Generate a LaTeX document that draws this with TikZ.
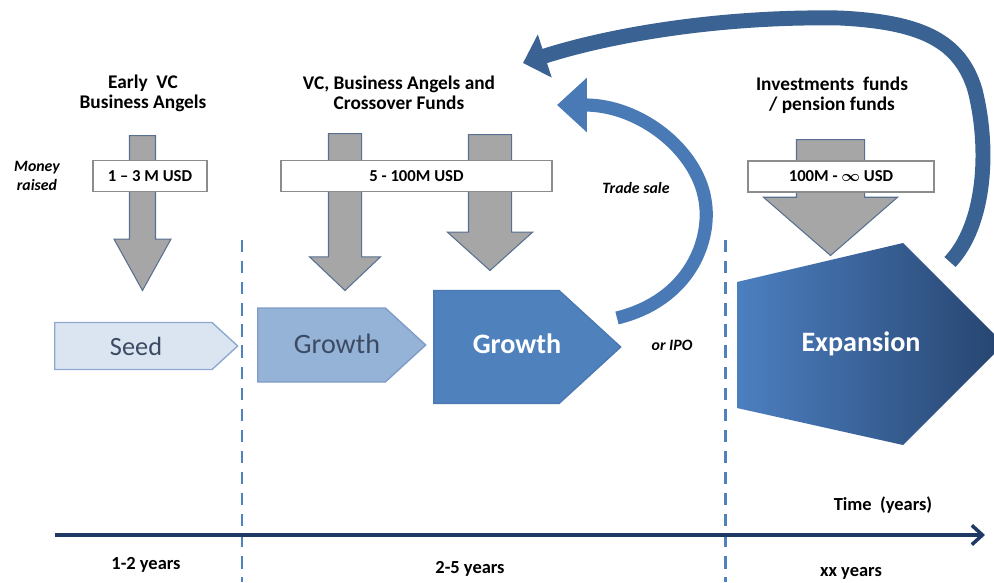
\documentclass[tikz,border=0pt]{standalone}
\usepackage{amsmath}
\usepackage{fontspec}
\setmainfont{Carlito}
\usetikzlibrary{arrows.meta,shapes.arrows}

\definecolor{seedfill}{HTML}{DBE5F1}
\definecolor{seedline}{HTML}{8EA9CF}
\definecolor{growAfill}{HTML}{95B3D7}
\definecolor{growAline}{HTML}{7E9CC6}
\definecolor{growBfill}{HTML}{4F81BD}
\definecolor{growBline}{HTML}{4A78B2}
\definecolor{expL}{HTML}{4C7FC0}
\definecolor{expM}{HTML}{1D3760}
\definecolor{expR}{HTML}{26446F}
\definecolor{phasetext}{HTML}{3C4A63}
\definecolor{arrowgray}{HTML}{A6A6A6}
\definecolor{arrowline}{HTML}{58708F}
\definecolor{boxline}{HTML}{8C8C8C}
\definecolor{tradeblue}{HTML}{4A7AB6}
\definecolor{loopblue}{HTML}{3A6293}
\definecolor{timeline}{HTML}{1F3864}
\definecolor{stageline}{HTML}{4F81BD}

\tikzset{>=latex,
  phase/.style={single arrow, single arrow head extend=0pt,
    single arrow tip angle=85, inner sep=0pt, anchor=tail, line width=0.8pt},
  money/.style={single arrow, rotate=-90, anchor=tail, inner xsep=0pt,
    fill=arrowgray, draw=arrowline, line width=0.6pt},
  amount/.style={draw=boxline, fill=white, line width=1pt, minimum height=0.62cm,
    inner sep=0pt, font=\bfseries\fontsize{9.5}{11}\selectfont},
  investor/.style={align=center, font=\bfseries\fontsize{11}{11.5}\selectfont},
  period/.style={font=\bfseries\fontsize{10.5}{12}\selectfont},
  exitnote/.style={align=center, font=\bfseries\itshape\fontsize{9}{10.5}\selectfont},
  stagebound/.style={draw=stageline, line width=1.7pt, dash pattern=on 7pt off 5pt}
}

\begin{document}
\begin{tikzpicture}[x=0.02cm, y=-0.02cm]
      \clip (0,0) rectangle (994,582);

      % stage boundaries and time axis
      \coordinate (bound1top) at (242,240);
      \coordinate (bound1bot) at (242,582);
      \coordinate (bound2top) at (725,240);
      \coordinate (bound2bot) at (725,582);
      \coordinate (axisL)     at (55,535);
      \coordinate (axisR)     at (985,535);

      \draw [stagebound] (bound1top) -- (bound1bot);
      \draw [stagebound] (bound2top) -- (bound2bot);
      \draw [draw=timeline, line width=2pt, -{Straight Barb[length=6pt,width=11pt,line width=2pt]}] (axisL) -- (axisR);

      % phases
      \node [phase, fill=seedfill, draw=seedline, minimum height=3.66cm, minimum width=0.94cm] (SeedN)    at (54,346)  {};
      \node [phase, fill=growAfill, draw=growAline, minimum height=3.36cm, minimum width=1.48cm] (GrowthAN) at (257,345) {};
      \node [phase, fill=growBfill, draw=growBline, minimum height=3.74cm, minimum width=2.26cm] (GrowthBN) at (433,347) {};
      \shade [left color=expL, middle color=expM, right color=expR]
        (737,282) -- (903,243) -- (1004,344) -- (903,445) -- (737,408) -- cycle;

      % money flowing in
      \node [money, inner ysep=0.25cm, minimum height=3.10cm, minimum width=1.12cm, single arrow head extend=0.31cm, single arrow tip angle=58] (EarlyA)  at (142.5,135) {};
      \node [money, inner ysep=0.32cm, minimum height=3.14cm, minimum width=1.40cm, single arrow head extend=0.38cm, single arrow tip angle=93] (GrowAA)  at (345,133)   {};
      \node [money, inner ysep=0.42cm, minimum height=2.72cm, minimum width=1.68cm, single arrow head extend=0.42cm, single arrow tip angle=96] (GrowBA)  at (490,134)   {};
      \node [money, inner ysep=0.67cm, minimum height=2.32cm, minimum width=2.66cm, single arrow head extend=0.66cm, single arrow tip angle=98] (ExpA)    at (830.5,139) {};

      \node [amount, minimum width=2.28cm] (EarlyBox) at (150,176)   {1 -- 3 M USD};
      \node [amount, minimum width=5.42cm] (GrowBox)  at (416.5,176) {5 - 100M USD};
      \node [amount, minimum width=3.72cm] (ExpBox)   at (841,176.5) {100M - $\boldsymbol{\infty}$ USD};

      % exits
      \coordinate (tradeFrom) at (617,318);
      \coordinate (tradeTo)   at (557,105);
      \coordinate (loopFrom)  at (950,262);
      \coordinate (loopTo)    at (523,63);

      \draw [draw=tradeblue, line width=7.5pt, -{Triangle[length=17pt,width=30pt]}]
        (tradeFrom) .. controls (690,300) and (712,240) .. (705,200)
                    .. controls (697,150) and (640,105) .. (tradeTo);
      \draw [draw=loopblue, line width=8.5pt, -{Triangle[length=13pt,width=25pt]}]
        (loopFrom) .. controls (985,225) and (990,150) .. (975,90)
                   .. controls (960,40) and (920,22) .. (840,18)
                   .. controls (720,16) and (610,35) .. (loopTo);

      % texts
      \node [investor] (EarlyN)  at (143,93)  {Early\ \ VC\\Business Angels};
      \node [investor] (GrowN)   at (399,93)  {VC, Business Angels and\\Crossover Funds};
      \node [investor] (ExpN)    at (832,95)  {Investments\ \ funds\\/ pension funds};
      \node [exitnote] (MoneyN)  at (37,176)  {Money\\raised};
      \node [exitnote] (TradeN)  at (636,188) {Trade sale};
      \node [exitnote] (IpoN)    at (672,345) {or IPO};

      \node [font=\fontsize{15}{17}\selectfont, text=phasetext] (SeedT)   at (136,346) {Seed};
      \node [font=\fontsize{16}{18}\selectfont, text=phasetext] (GrowthAT) at (337,344) {Growth};
      \node [font=\bfseries\fontsize{16}{18}\selectfont, text=white] (GrowthBT) at (517,344) {Growth};
      \node [font=\bfseries\fontsize{16}{18}\selectfont, text=white] (ExpT)     at (861,344) {Expansion};

      \node [period] (TimeN)  at (883,505) {Time\ \ (years)};
      \node [period] (Per1N)  at (146,565) {1-2 years};
      \node [period] (Per2N)  at (470,569) {2-5 years};
      \node [period] (Per3N)  at (851,573) {xx years};
    \end{tikzpicture}
\end{document}
